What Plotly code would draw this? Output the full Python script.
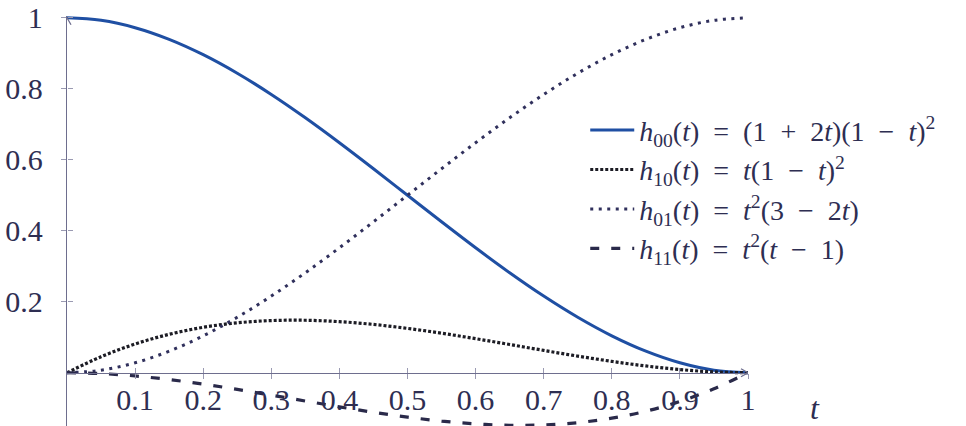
import plotly.graph_objects as go

# Sample points of the parameter t
t_vals = [0.0, 0.05, 0.1, 0.15, 0.2, 0.25, 0.3, 0.35, 0.4, 0.45, 0.5,
          0.55, 0.6, 0.65, 0.7, 0.75, 0.8, 0.85, 0.9, 0.95, 1.0]

# Cubic Hermite basis functions at those points
h00 = [1.0, 0.99275, 0.972, 0.93925, 0.896, 0.84375, 0.784, 0.71825, 0.648, 0.57475, 0.5,
       0.42525, 0.352, 0.28175, 0.216, 0.15625, 0.104, 0.06075, 0.028, 0.00725, 0.0]
h10 = [0.0, 0.045125, 0.081, 0.108375, 0.128, 0.140625, 0.147, 0.147875, 0.144, 0.136125, 0.125,
       0.111375, 0.096, 0.079625, 0.063, 0.046875, 0.032, 0.019125, 0.009, 0.002375, 0.0]
h01 = [0.0, 0.00725, 0.028, 0.06075, 0.104, 0.15625, 0.216, 0.28175, 0.352, 0.42525, 0.5,
       0.57475, 0.648, 0.71825, 0.784, 0.84375, 0.896, 0.93925, 0.972, 0.99275, 1.0]
h11 = [0.0, -0.002375, -0.009, -0.019125, -0.032, -0.046875, -0.063, -0.079625, -0.096, -0.111375, -0.125,
       -0.136125, -0.144, -0.147875, -0.147, -0.140625, -0.128, -0.108375, -0.081, -0.045125, 0.0]

x_ticks = [0.1, 0.2, 0.3, 0.4, 0.5, 0.6, 0.7, 0.8, 0.9, 1.0]
x_tick_text = ["0.1", "0.2", "0.3", "0.4", "0.5", "0.6", "0.7", "0.8", "0.9", "1"]
y_ticks = [0.2, 0.4, 0.6, 0.8, 1.0]
y_tick_text = ["0.2", "0.4", "0.6", "0.8", "1"]

# Math-style spacing: en spaces around "=", "+" and "−"
EQ = "\u2002=\u2002"
PLUS = "\u2002+\u2002"
MINUS = "\u2002−\u2002"
names = [
    f"<i>h</i><sub>00</sub>(<i>t</i>){EQ}(1{PLUS}2<i>t</i>)(1{MINUS}<i>t</i>)<sup>2</sup>",
    f"<i>h</i><sub>10</sub>(<i>t</i>){EQ}<i>t</i>(1{MINUS}<i>t</i>)<sup>2</sup>",
    f"<i>h</i><sub>01</sub>(<i>t</i>){EQ}<i>t</i><sup>2</sup>(3{MINUS}2<i>t</i>)",
    f"<i>h</i><sub>11</sub>(<i>t</i>){EQ}<i>t</i><sup>2</sup>(<i>t</i>{MINUS}1)",
]

TEXT = "#2e2e52"
AXIS = "#6e6e8e"
TICK = "#9a9ab2"
FONT = "Times New Roman, Liberation Serif, Noto Serif, serif"

X_MIN, X_MAX = 0.0, 1.0
Y_MIN, Y_MAX = -0.15, 1.005
x_axis_pos = (0 - Y_MIN) / (Y_MAX - Y_MIN)

fig = go.Figure()
fig.add_trace(go.Scatter(x=t_vals, y=h00, mode="lines", name=names[0], line_shape="spline",
                         line=dict(color="#1f4fa3", width=3)))
fig.add_trace(go.Scatter(x=t_vals, y=h10, mode="lines", name=names[1], line_shape="spline",
                         line=dict(color="#1c1c24", width=3.2, dash="3px,2px")))
fig.add_trace(go.Scatter(x=t_vals, y=h01, mode="lines", name=names[2], line_shape="spline",
                         line=dict(color="#30305c", width=3, dash="3px,5.5px")))
fig.add_trace(go.Scatter(x=t_vals, y=h11, mode="lines", name=names[3], line_shape="spline",
                         line=dict(color="#2a2a4a", width=3.2, dash="9px,12px"),
                         xaxis="x2", yaxis="y2"))

axis_common = dict(showgrid=False, zeroline=False, tickcolor=TICK, ticklen=5, tickwidth=1,
                   tickfont=dict(family=FONT, size=30, color=TEXT))

fig.update_layout(
    width=966, height=426,
    margin=dict(l=67, r=218, t=16, b=0),
    paper_bgcolor="white", plot_bgcolor="white",
    font=dict(family=FONT),
    showlegend=True,
    legend=dict(x=0.761, y=0.782, xanchor="left", yanchor="top", itemwidth=44,
                font=dict(family=FONT, size=28, color=TEXT),
                bgcolor="rgba(0,0,0,0)", borderwidth=0, tracegroupgap=0),
    xaxis=dict(range=[X_MIN, X_MAX], anchor="free", position=x_axis_pos,
               showline=True, linecolor=AXIS, linewidth=1.3,
               tickmode="array", tickvals=x_ticks, ticktext=x_tick_text,
               ticks="outside", ticklabelstandoff=-5, **axis_common),
    yaxis=dict(range=[Y_MIN, Y_MAX], anchor="x",
               showline=True, linecolor=AXIS, linewidth=1.3,
               tickmode="array", tickvals=y_ticks, ticktext=y_tick_text,
               ticks="outside", ticklabelstandoff=12, **axis_common),
    xaxis2=dict(range=[X_MIN, X_MAX], overlaying="x", anchor="free", position=x_axis_pos,
                showline=False, showticklabels=False,
                tickmode="array", tickvals=x_ticks, ticks="inside", **axis_common),
    yaxis2=dict(range=[Y_MIN, Y_MAX], overlaying="y", anchor="free", position=0,
                showline=False, showticklabels=False,
                tickmode="array", tickvals=y_ticks, ticks="inside", **axis_common),
)

# Arrow heads at the ends of both axes
fig.add_shape(type="path", xref="x", yref="y", xsizemode="pixel", ysizemode="pixel",
              xanchor=X_MAX, yanchor=0, path="M -7,4 L 0,0 L -7,-4",
              line=dict(color=AXIS, width=1.3))
fig.add_shape(type="path", xref="x", yref="y", xsizemode="pixel", ysizemode="pixel",
              xanchor=0, yanchor=1.0, path="M -4,-7 L 0,0 L 4,-7",
              line=dict(color=AXIS, width=1.3))

# Axis label for t
fig.add_annotation(text="<i>t</i>", xref="paper", yref="paper", x=1.108, y=-0.004,
                   showarrow=False, font=dict(family=FONT, size=32, color=TEXT))

fig.write_html("out.html")
